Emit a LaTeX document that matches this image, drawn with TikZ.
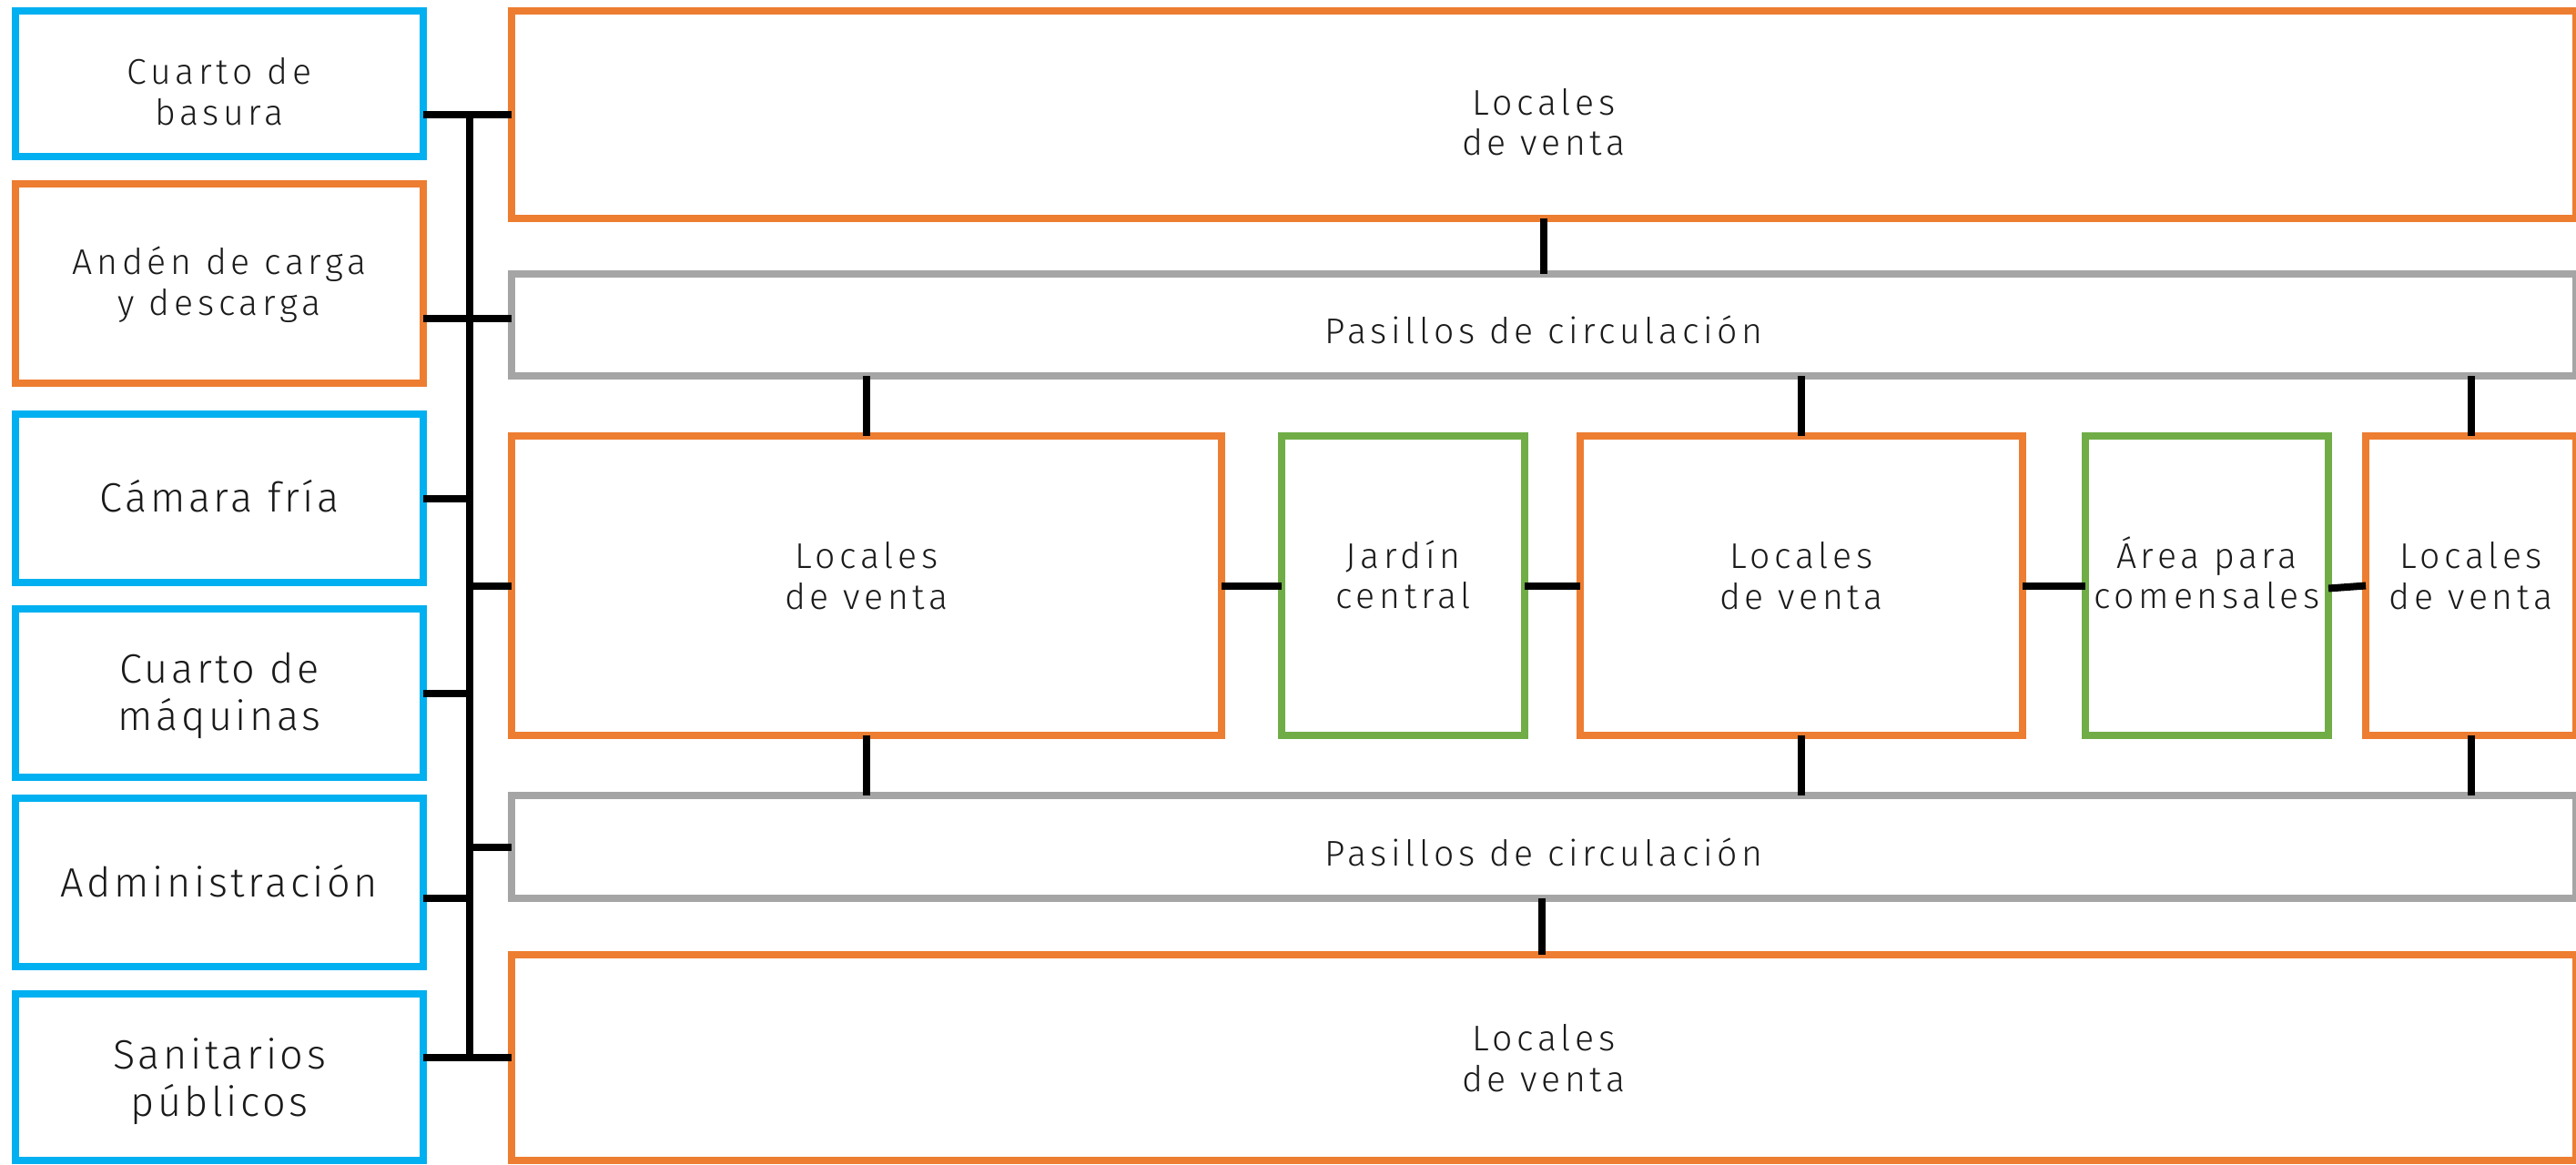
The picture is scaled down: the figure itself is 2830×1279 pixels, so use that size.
\documentclass[tikz,border=0pt]{standalone}
\usepackage{fontspec}
\setmainfont{Fira Sans Light}[LetterSpace=12]
\definecolor{cblue}{HTML}{00B0F0}
\definecolor{corange}{HTML}{ED7D31}
\definecolor{cgreen}{HTML}{70AD47}
\definecolor{cgray}{HTML}{A5A5A5}
\definecolor{ctxt}{HTML}{1A1A1A}
\newcommand\ftwo{\fontsize{19.6}{22.25}\selectfont}
\newcommand\fone{\fontsize{22.5}{26}\selectfont\addfontfeature{LetterSpace=8}}
\tikzset{
  bx/.style={draw, rectangle, line width=4pt, outer sep=0pt, inner sep=0pt},
  bxblue/.style={bx, draw=cblue, minimum width=224pt},
  bxorange/.style={bx, draw=corange},
  bxgreen/.style={bx, draw=cgreen},
  bxgray/.style={bx, draw=cgray},
  lbl/.style={align=center, text=ctxt, inner sep=0pt, outer sep=0pt, font=\ftwo},
  lblbig/.style={lbl, font=\fone},
  conn/.style={draw=black, line width=4pt},
  busline/.style={draw=black, line width=4pt, line cap=rect}
}
\begin{document}
\begin{tikzpicture}[x=0.5pt,y=-0.5pt]
\useasboundingbox (0,0) rectangle (2830,1279);
% left column
\node[bxblue, minimum height=80pt,
  label={[lbl, name=cbt, yshift=-4.25pt]center:{Cuarto de\\basura}}] (cb) at (241,92) {};
\node[bxorange, minimum width=224pt, minimum height=109.5pt,
  label={[lbl, name=ant, yshift=-0.6pt]center:{Andén de carga\\y descarga}}] (an) at (241,311.5) {};
\node[bxblue, minimum height=92.5pt,
  label={[lblbig, name=cft, yshift=1pt]center:{Cámara fría}}] (cf) at (241,547.5) {};
\node[bxblue, minimum height=92.5pt,
  label={[lblbig, name=cmt, yshift=-1.65pt]center:{Cuarto de\\máquinas}}] (cm) at (241,761.5) {};
\node[bxblue, minimum height=92.5pt,
  label={[lblbig, name=adt, yshift=0.5pt]center:{Administración}}] (ad) at (241,969.5) {};
\node[bxblue, minimum height=91.5pt,
  label={[lblbig, name=spt, yshift=-2.15pt]center:{Sanitarios\\públicos}}] (sp) at (241,1183.5) {};
% right part
\node[bxorange, minimum width=1134pt, minimum height=113.75pt,
  label={[lbl, name=ltt, yshift=-4.25pt]center:{Locales\\de venta}}] (lt) at (1696,125.75) {};
\node[bxgray, minimum width=1134pt, minimum height=56.25pt,
  label={[lbl, name=ptt, yshift=-3pt]center:{Pasillos de circulación}}] (pt) at (1696,356.75) {};
\node[bxorange, minimum width=390pt, minimum height=164.5pt,
  label={[lbl, name=l1t, yshift=5.5pt]center:{Locales\\de venta}}] (l1) at (952,643.5) {};
\node[bxgreen, minimum width=133.5pt, minimum height=164.5pt,
  label={[lbl, name=jct, yshift=6pt]center:{Jardín\\central}}] (jc) at (1541.5,643.5) {};
\node[bxorange, minimum width=243pt, minimum height=164.5pt,
  label={[lbl, name=l2t, yshift=5.5pt]center:{Locales\\de venta}}] (l2) at (1979,643.5) {};
\node[bxgreen, minimum width=133.5pt, minimum height=164.5pt,
  label={[lbl, name=apt, yshift=7pt]center:{Área para\\comensales}}] (ap) at (2424.5,643.5) {};
\node[bxorange, minimum width=115.5pt, minimum height=164.5pt,
  label={[lbl, name=l3t, yshift=5.5pt]center:{Locales\\de venta}}] (l3) at (2714.5,643.5) {};
\node[bxgray, minimum width=1134pt, minimum height=56.5pt,
  label={[lbl, name=pbt, yshift=-2.75pt]center:{Pasillos de circulación}}] (pb) at (1696,930.5) {};
\node[bxorange, minimum width=1134pt, minimum height=113pt,
  label={[lbl, name=lbt, yshift=-0.25pt]center:{Locales\\de venta}}] (lb) at (1696,1162) {};
% bus
\coordinate (busx) at (516,0);
\coordinate (anj) at ([yshift=3.25pt]pt.west);
\coordinate (adj) at (516,987);
\draw[busline] (busx |- lt.west) -- (busx |- lb.west);
\draw[conn] (cb.east |- lt.west) -- (lt.west);
\draw[conn] (an.east |- anj) -- (anj);
\draw[conn] (cf.east) -- (cf.east -| busx);
\draw[conn] (busx |- l1.west) -- (l1.west);
\draw[conn] (cm.east) -- (cm.east -| busx);
\draw[conn] (busx |- pb.west) -- (pb.west);
\draw[conn] (ad.east |- adj) -- (adj);
\draw[conn] (sp.east |- lb.west) -- (lb.west);
% vertical links
\draw[conn] (lt.south) -- (pt.north);
\draw[conn] (l1.north |- pt.south) -- (l1.north);
\draw[conn] (l2.north |- pt.south) -- (l2.north);
\draw[conn] (l3.north |- pt.south) -- (l3.north);
\draw[conn] (l1.south) -- (l1.south |- pb.north);
\draw[conn] (l2.south) -- (l2.south |- pb.north);
\draw[conn] (l3.south) -- (l3.south |- pb.north);
\draw[conn] ([xshift=-1.25pt]pb.south) -- ([xshift=-1.25pt]lb.north);
% middle row links
\draw[conn] (l1.east) -- (jc.west);
\draw[conn] (jc.east) -- (l2.west);
\draw[conn] (l2.east) -- (ap.west);
\draw[conn] ([yshift=-1.5pt]ap.east) -- (l3.west);
\end{tikzpicture}
\end{document}
